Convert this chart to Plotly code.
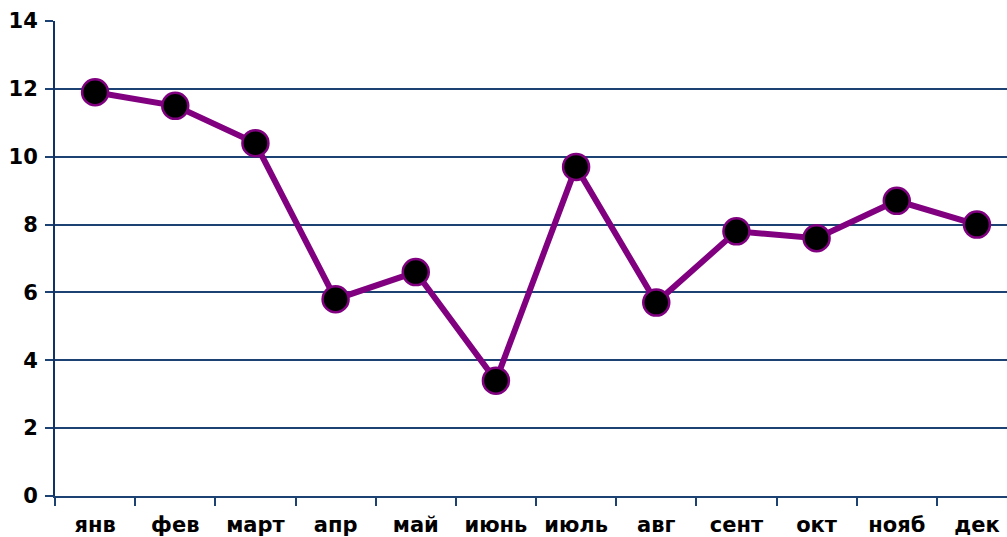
import plotly.graph_objects as go

months = ["янв", "фев", "март", "апр", "май", "июнь", "июль", "авг", "сент", "окт", "нояб", "дек"]
values = [11.9, 11.5, 10.4, 5.8, 6.6, 3.4, 9.7, 5.7, 7.8, 7.6, 8.7, 8.0]
y_ticks = [0, 2, 4, 6, 8, 10, 12, 14]

navy = "#1b4272"
purple = "#800080"
label_font = dict(family="DejaVu Sans", size=21, color="#000000", weight="bold")

fig = go.Figure(
    go.Scatter(
        x=months,
        y=values,
        mode="lines+markers",
        line=dict(color=purple, width=6),
        marker=dict(size=26, color="#000000", line=dict(color=purple, width=2.5)),
        cliponaxis=False,
    )
)

fig.update_layout(
    width=1007,
    height=537,
    margin=dict(l=55, r=0, t=21, b=41),
    paper_bgcolor="white",
    plot_bgcolor="white",
    showlegend=False,
)

fig.update_xaxes(
    type="category",
    range=[-0.5, 11.375],
    showgrid=False,
    showline=True,
    linecolor=navy,
    linewidth=2,
    ticks="outside",
    tickson="boundaries",
    ticklen=8,
    tickwidth=2,
    tickcolor=navy,
    tickfont=label_font,
    ticklabelstandoff=9,
    automargin=False,
)

fig.update_yaxes(
    range=[0, 14],
    tickvals=y_ticks,
    showgrid=True,
    gridcolor=navy,
    gridwidth=2,
    zeroline=False,
    showline=True,
    linecolor="#0f3366",
    linewidth=2,
    ticks="outside",
    ticklen=8,
    tickwidth=2,
    tickcolor=navy,
    tickfont=label_font,
    ticklabelstandoff=3,
    automargin=False,
)

fig.write_html("out.html")
